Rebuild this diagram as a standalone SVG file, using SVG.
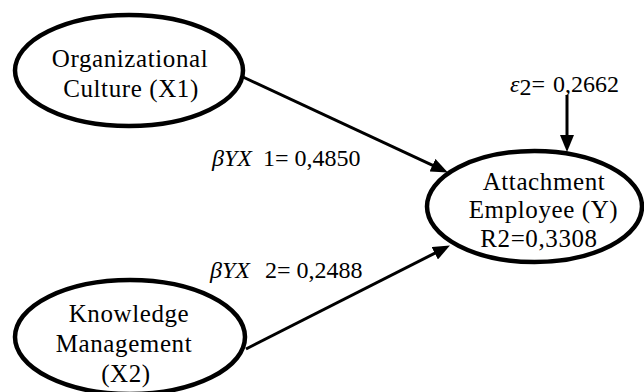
<svg xmlns="http://www.w3.org/2000/svg" width="644" height="392" viewBox="0 0 644 392">
<style>
.node ellipse{fill:#fff;stroke:#000;stroke-width:4.5}
.lbl{font-family:"Liberation Serif",serif;font-size:25px;fill:#000;text-anchor:middle;letter-spacing:0.6px}
.coef{font-family:"Liberation Serif",serif;font-size:24px;fill:#000}
.it{font-style:italic}
.conn line{stroke:#000;stroke-width:3}
</style>
<defs>
<marker id="ah" viewBox="0 0 17 14" refX="8" refY="7" markerWidth="17" markerHeight="14" markerUnits="userSpaceOnUse" orient="auto">
<path d="M0,0 L17,7 L0,14 Z" fill="#000"/>
</marker>
</defs>
<rect width="644" height="392" fill="#fff"/>
<g id="connectors" class="conn">
<line x1="243" y1="77" x2="439.7" y2="168.6" marker-end="url(#ah)"/>
<line x1="246" y1="349" x2="441.9" y2="249.6" marker-end="url(#ah)"/>
<line x1="567" y1="95" x2="567" y2="143" marker-end="url(#ah)"/>
</g>
<g id="n1" class="node">
<ellipse cx="129" cy="70.5" rx="114" ry="55.5"/>
<text class="lbl" x="130" y="67">Organizational</text>
<text class="lbl" x="131" y="97">Culture (X1)</text>
</g>
<g id="n2" class="node">
<ellipse cx="130" cy="337" rx="115" ry="57"/>
<text class="lbl" x="129" y="322">Knowledge</text>
<text class="lbl" x="124" y="352">Management</text>
<text class="lbl" x="126" y="382">(X2)</text>
</g>
<g id="n3" class="node">
<ellipse cx="534.5" cy="206.5" rx="107.5" ry="55.5"/>
<text class="lbl" x="544" y="190">Attachment</text>
<text class="lbl" x="543.5" y="218">Employee (Y)</text>
<text class="lbl" x="539" y="247">R2=0,3308</text>
</g>
<g id="labels">
<text class="coef" x="212" y="166"><tspan class="it">βYX</tspan><tspan x="263">1= 0,4850</tspan></text>
<text class="coef" x="210" y="278"><tspan class="it">βYX</tspan><tspan x="265">2= 0,2488</tspan></text>
<text class="coef" x="510" y="92"><tspan class="it">ε</tspan><tspan dy="3">2</tspan><tspan dy="-3">=</tspan><tspan x="553">0,2662</tspan></text>
</g>
</svg>
